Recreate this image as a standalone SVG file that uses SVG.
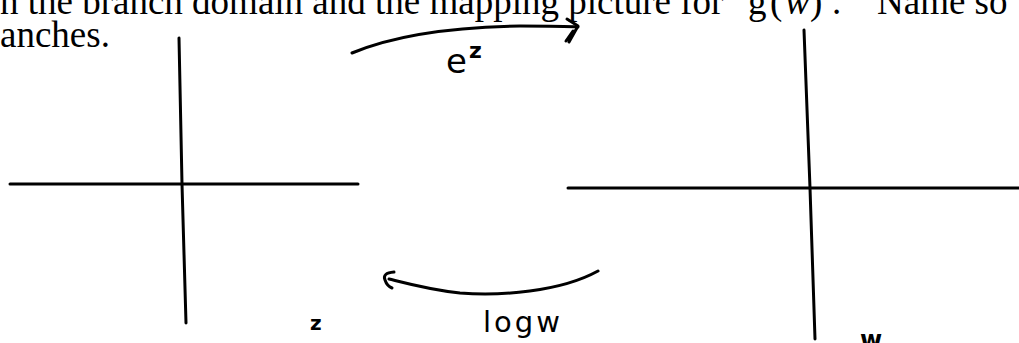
<svg xmlns="http://www.w3.org/2000/svg" width="1019" height="343" viewBox="0 0 1019 343">
<style>
.prose{font-family:"Liberation Serif","Times New Roman",serif;font-size:37px;fill:#000}
.ink{fill:none;stroke:#000;stroke-width:3;stroke-linecap:round;stroke-linejoin:round}
.hand{font-family:"DejaVu Sans","Liberation Sans",sans-serif;fill:#000}
</style>
<rect width="1019" height="343" fill="#fff"/>
<g id="header">
<text class="prose" x="0" y="14">n the branch domain and the mapping picture for</text>
<text class="prose" y="14"><tspan x="748">g</tspan><tspan x="770">(</tspan><tspan x="785" font-style="italic">w</tspan><tspan x="810">)</tspan><tspan x="832">.</tspan><tspan x="877">Name so</tspan></text>
<text class="prose" x="0" y="47" font-size="41">anches.</text>
</g>
<g id="z-plane">
<path class="ink" d="M10,184 L358,184"/>
<path class="ink" d="M179,38 L182,184 L186,323"/>
<text class="hand" x="310" y="330" font-size="20" font-weight="bold">z</text>
</g>
<g id="w-plane">
<path class="ink" d="M568,188 L1019,188"/>
<path class="ink" d="M804,30 L810,188 L815,339"/>
<text class="hand" x="860" y="348" font-size="24" font-weight="bold">w</text>
</g>
<g id="connectors">
<path id="exp-arrow" class="ink" d="M352,53 C395,35 455,27 520,26 C545,26 565,26 578,27"/>
<path class="ink" d="M567,19 L578,26 L569,42 M573,31 L566,41"/>
<path id="log-arrow" class="ink" d="M598,271 C560,292 500,296 460,293 C430,290 405,283 389,279"/>
<path class="ink" d="M394,272 Q382,273 385,280 Q387,286 392,288"/>
</g>
<g id="labels">
<text class="hand" x="446" y="73" font-size="34">e</text>
<text class="hand" x="469" y="58" font-size="22" font-weight="bold">z</text>
<text class="hand" x="483" y="332" font-size="29" letter-spacing="3">logw</text>
</g>
</svg>
